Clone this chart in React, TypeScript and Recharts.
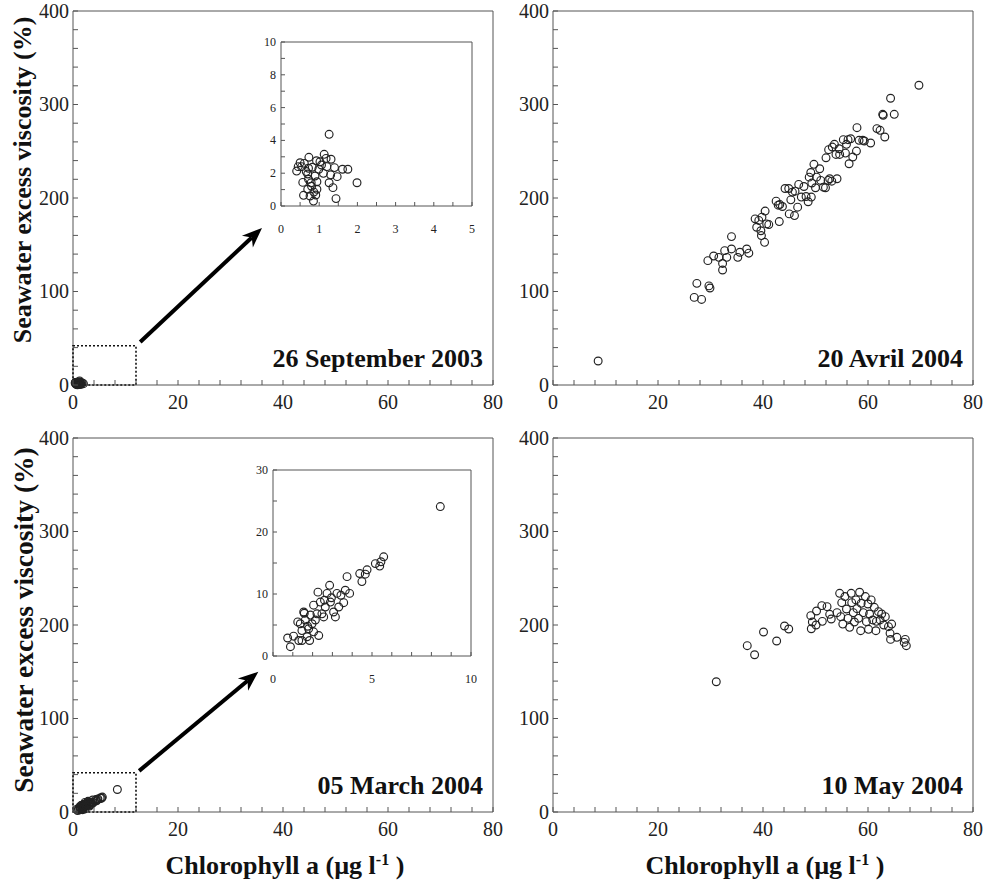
import React from 'react';
import { ScatterChart, Scatter, XAxis, YAxis, ReferenceArea, ReferenceLine } from 'recharts';

// Chlorophyll a (µg/l) vs seawater excess viscosity (%), four sampling dates

// 26 September 2003
const sepChl = [1.26, 1.13, 0.73, 0.93, 1.31, 0.5, 0.61, 0.54, 0.41, 0.72, 0.82, 0.99, 1.06, 1.2, 1.4, 1.61, 1.75, 0.7, 0.89, 1.11, 1.47, 0.57, 0.79, 0.94, 1.26, 1.99, 1.36, 0.7, 0.94, 0.59, 0.76, 0.91, 0.85, 1.44, 0.72, 0.45, 1.02, 0.66, 0.8, 1.18, 1.3, 0.86];
const sepVisc = [4.37, 3.15, 2.97, 2.76, 2.85, 2.64, 2.6, 2.4, 2.13, 2.3, 2.36, 2.24, 2.5, 2.4, 2.34, 2.24, 2.24, 1.95, 1.83, 1.99, 1.79, 1.44, 1.42, 1.48, 1.42, 1.42, 1.12, 1.02, 1.02, 0.65, 0.61, 0.67, 0.3, 0.45, 1.63, 2.4, 2.7, 2.1, 1.2, 2.9, 1.9, 0.85];

// 05 March 2004
const marChl = [8.45, 5.59, 5.39, 5.17, 4.75, 4.66, 4.38, 4.49, 3.74, 3.87, 3.65, 3.57, 3.43, 3.23, 3.15, 3.06, 2.86, 2.9, 2.73, 2.64, 2.47, 2.39, 2.27, 2.22, 2.14, 2.05, 1.97, 1.89, 1.8, 1.63, 1.58, 1.46, 1.38, 1.3, 1.55, 1.72, 1.85, 2.31, 1.04, 0.74, 0.88, 1.25, 1.46, 2.05, 2.56, 3.32, 2.95, 2.6, 1.75, 5.45];
const marVisc = [24.1, 16.0, 14.5, 14.9, 13.9, 13.2, 13.3, 12.0, 12.8, 10.1, 10.6, 8.6, 9.8, 10.1, 6.3, 7.1, 11.4, 8.7, 10.1, 7.9, 6.8, 8.7, 10.3, 6.8, 5.8, 8.2, 5.2, 6.6, 4.4, 5.8, 6.9, 4.1, 5.2, 2.5, 7.1, 3.1, 2.5, 3.3, 3.2, 2.9, 1.5, 5.5, 2.5, 3.9, 6.3, 7.9, 9.4, 9.0, 4.8, 15.2];

// 20 Avril 2004
const aprChl = [8.6, 26.9, 27.4, 28.3, 29.7, 29.9, 29.5, 30.6, 31.6, 32.3, 32.3, 32.7, 33.1, 34.0, 34.0, 35.2, 35.6, 36.9, 37.3, 38.5, 38.8, 39.2, 39.6, 39.7, 39.8, 40.3, 40.4, 40.7, 41.1, 42.5, 42.9, 43.1, 43.2, 43.7, 44.2, 44.9, 45.0, 45.3, 45.6, 46.0, 46.1, 46.6, 46.8, 47.3, 47.8, 48.2, 48.6, 48.8, 49.1, 49.2, 49.3, 49.7, 50.0, 50.2, 50.8, 51.0, 51.5, 51.9, 52.0, 52.4, 52.5, 52.7, 53.1, 53.2, 53.6, 53.9, 54.1, 54.5, 54.6, 55.3, 55.7, 55.9, 56.2, 56.4, 56.7, 57.1, 57.8, 57.9, 58.3, 59.0, 59.3, 60.5, 61.7, 62.3, 62.8, 62.9, 63.2, 64.3, 65.0, 69.7];
const aprVisc = [25.7, 93.7, 108.7, 91.5, 106, 103.7, 133, 138, 136.5, 130, 123, 143.7, 136.5, 158.7, 145.5, 136.5, 142, 145.5, 141, 177.7, 168.7, 176, 165, 159.8, 179.5, 152.6, 186, 172.3, 171.6, 196.6, 192.3, 174.8, 193, 190.9, 210.2, 210.2, 183, 198, 206.3, 181.2, 207.3, 190.2, 214.5, 201, 212.3, 201.6, 196, 222.3, 227.3, 201, 216, 236, 211, 222.3, 231.3, 218.8, 211.6, 211, 243, 218.8, 251.7, 220.6, 218, 254.5, 257.4, 246.6, 220.6, 252.7, 246.6, 262.4, 248, 257.4, 262.4, 236.6, 263.4, 243.8, 250.2, 275.2, 261.7, 261.7, 261, 258.8, 274.2, 272.4, 289.5, 288.5, 265.2, 306.7, 289.5, 320.6];

// 10 May 2004
const mayChl = [31.1, 37.0, 38.4, 40.1, 42.6, 44.1, 44.9, 49.1, 49.2, 49.4, 50.1, 50.2, 51.2, 51.3, 52.2, 52.7, 53.0, 54.1, 54.6, 54.8, 55.0, 55.2, 55.6, 55.9, 56.2, 56.5, 56.8, 56.9, 57.2, 57.4, 57.7, 57.9, 58.2, 58.4, 58.6, 58.7, 59.1, 59.5, 59.7, 60.0, 60.1, 60.3, 60.6, 60.9, 61.2, 61.5, 61.6, 62.0, 62.3, 62.6, 63.0, 63.3, 63.9, 64.2, 64.3, 64.5, 65.5, 67.1, 67.3, 66.9];
const mayVisc = [139.3, 177.9, 168.2, 192.5, 182.9, 198.9, 195.7, 210, 196, 203.2, 200, 215, 220.7, 203.9, 219.6, 211.4, 206.4, 213.2, 233.9, 208.9, 223.9, 201, 230.4, 217.1, 207.1, 197.5, 233.9, 223.9, 213.2, 203.2, 226.8, 217.5, 207.1, 235, 193.9, 223.2, 213.2, 230.4, 203.6, 222.5, 195.4, 211.8, 226.8, 205.4, 218.9, 193.9, 203.9, 214.3, 205.4, 211.8, 200, 208.9, 198.2, 191.1, 184.6, 201, 186.8, 184.6, 177.9, 181.4];

// axis ticks (every tick mark) and the ones carrying a label
const mainXTicks = [0, 4, 8, 12, 16, 20, 24, 28, 32, 36, 40, 44, 48, 52, 56, 60, 64, 68, 72, 76, 80];
const mainXLabels = [0, 20, 40, 60, 80];
const mainYTicks = [0, 20, 40, 60, 80, 100, 120, 140, 160, 180, 200, 220, 240, 260, 280, 300, 320, 340, 360, 380, 400];
const mainYLabels = [0, 100, 200, 300, 400];
const sepInsetXTicks = [0, 0.5, 1, 1.5, 2, 2.5, 3, 3.5, 4, 4.5, 5];
const sepInsetXLabels = [0, 1, 2, 3, 4, 5];
const sepInsetYTicks = [0, 1, 2, 3, 4, 5, 6, 7, 8, 9, 10];
const sepInsetYLabels = [0, 2, 4, 6, 8, 10];
const marInsetXTicks = [0, 1, 2, 3, 4, 5, 6, 7, 8, 9, 10];
const marInsetXLabels = [0, 5, 10];
const marInsetYTicks = [0, 5, 10, 15, 20, 25, 30];
const marInsetYLabels = [0, 10, 20, 30];

const SERIF = "'Liberation Serif', 'Times New Roman', serif";
const INK = '#222';
const FRAME = '#555';

type Pt = { x: number; y: number };
const toPts = (xs: number[], ys: number[]): Pt[] => xs.map((x, i) => ({ x, y: ys[i] }));

const ring = (p: any) => (
  <circle cx={p.cx} cy={p.cy} r={3.9} fill="none" stroke="#222" strokeWidth={1.15} />
);

// ticks drawn inward, text only for labelled values
const xTick = (labels: number[], len: number, size: number, dy: number) => (p: any) => {
  const { x, y, payload } = p;
  return (
    <g>
      <line x1={x} y1={y} x2={x} y2={y - len} stroke={FRAME} strokeWidth={1} />
      {labels.includes(payload.value) && (
        <text x={x} y={y + dy} textAnchor="middle" fontSize={size} fontFamily={SERIF} fill={INK}>
          {payload.value}
        </text>
      )}
    </g>
  );
};

const yTick = (labels: number[], len: number, size: number, dx: number) => (p: any) => {
  const { x, y, payload } = p;
  return (
    <g>
      <line x1={x} y1={y} x2={x + len} y2={y} stroke={FRAME} strokeWidth={1} />
      {labels.includes(payload.value) && (
        <text x={x - dx} y={y + size * 0.34} textAnchor="end" fontSize={size} fontFamily={SERIF} fill={INK}>
          {payload.value}
        </text>
      )}
    </g>
  );
};

const arrowShape = (p: any) => {
  const { x1, y1, x2, y2 } = p;
  const a = Math.atan2(y2 - y1, x2 - x1);
  const c = Math.cos(a), s = Math.sin(a);
  const L = 20, W = 8, N = 14;
  const bx = x2 - L * c, by = y2 - L * s;
  const nx = x2 - N * c, ny = y2 - N * s;
  return (
    <g>
      <line x1={x1} y1={y1} x2={nx} y2={ny} stroke="#000" strokeWidth={4} />
      <polygon
        points={`${x2},${y2} ${bx - s * W},${by + c * W} ${nx},${ny} ${bx + s * W},${by - c * W}`}
        fill="#000"
      />
    </g>
  );
};

const DateLabel = ({ viewBox, text }: any) => (
  <text
    x={viewBox.x + viewBox.width - 10}
    y={viewBox.y + viewBox.height - 18}
    textAnchor="end"
    fontSize={26}
    fontWeight="bold"
    fontFamily={SERIF}
    fill="#111"
  >
    {text}
  </text>
);

type PanelProps = {
  left: number;
  top: number;
  data: Pt[];
  date: string;
  zoomBox?: { x: number; y: number };
  arrow?: [Pt, Pt];
};

const PW = 420;
const PH = 374;

const MainPanel = ({ left, top, data, date, zoomBox, arrow }: PanelProps) => (
  <div style={{ position: 'absolute', left: left - 60, top: top - 10 }}>
    <ScatterChart width={PW + 70} height={PH + 45} margin={{ top: 10, right: 10, bottom: 5, left: 0 }}>
      <XAxis
        type="number" dataKey="x" domain={[0, 80]} ticks={mainXTicks} interval={0}
        tickSize={0} tickMargin={0} tickLine={false} axisLine={false} height={30}
        tick={xTick(mainXLabels, 5, 20, 24)}
      />
      <YAxis
        type="number" dataKey="y" domain={[0, 400]} ticks={mainYTicks} interval={0}
        tickSize={0} tickMargin={0} tickLine={false} axisLine={false} width={60}
        tick={yTick(mainYLabels, 5, 20, 4)}
      />
      <ReferenceArea
        x1={0} x2={80} y1={0} y2={400} fill="none" stroke={FRAME} strokeWidth={1}
        label={<DateLabel text={date} />}
      />
      {zoomBox && (
        <ReferenceArea
          x1={0} x2={zoomBox.x} y1={0} y2={zoomBox.y} fill="none"
          stroke="#111" strokeWidth={1.6} strokeDasharray="2 2"
        />
      )}
      {arrow && <ReferenceLine segment={arrow} shape={arrowShape} />}
      <Scatter data={data} shape={ring} isAnimationActive={false} />
    </ScatterChart>
  </div>
);

type InsetProps = {
  left: number;
  top: number;
  w: number;
  h: number;
  data: Pt[];
  xMax: number;
  yMax: number;
  xTicks: number[];
  xLabels: number[];
  yTicks: number[];
  yLabels: number[];
};

const Inset = ({ left, top, w, h, data, xMax, yMax, xTicks, xLabels, yTicks, yLabels }: InsetProps) => (
  <div style={{ position: 'absolute', left: left - 40, top: top - 6 }}>
    <ScatterChart width={w + 46} height={h + 36} margin={{ top: 6, right: 6, bottom: 0, left: 0 }}>
      <XAxis
        type="number" dataKey="x" domain={[0, xMax]} ticks={xTicks} interval={0}
        tickSize={0} tickMargin={0} tickLine={false} axisLine={false} height={30}
        tick={xTick(xLabels, 4, 12, 27)}
      />
      <YAxis
        type="number" dataKey="y" domain={[0, yMax]} ticks={yTicks} interval={0}
        tickSize={0} tickMargin={0} tickLine={false} axisLine={false} width={40}
        tick={yTick(yLabels, 4, 12, 5)}
      />
      <ReferenceArea x1={0} x2={xMax} y1={0} y2={yMax} fill="none" stroke={FRAME} strokeWidth={1} />
      <Scatter data={data} shape={ring} isAnimationActive={false} />
    </ScatterChart>
  </div>
);

const yTitle: React.CSSProperties = {
  position: 'absolute',
  transform: 'translate(-50%, -50%) rotate(-90deg)',
  whiteSpace: 'nowrap',
  fontFamily: SERIF,
  fontWeight: 'bold',
  fontSize: 26,
  lineHeight: 1,
  color: '#111',
};

const xTitle: React.CSSProperties = { ...yTitle, transform: 'translate(-50%, -50%)' };

const sup: React.CSSProperties = { fontSize: '0.62em', position: 'relative', top: '-0.55em' };

export default function App() {
  const sep = toPts(sepChl, sepVisc);
  const mar = toPts(marChl, marVisc);
  const apr = toPts(aprChl, aprVisc);
  const may = toPts(mayChl, mayVisc);

  return (
    <div style={{ position: 'absolute', left: 0, top: 0, width: 984, height: 883, background: '#fff', overflow: 'hidden' }}>
      <MainPanel
        left={73} top={11} data={sep} date="26 September 2003"
        zoomBox={{ x: 12, y: 42 }} arrow={[{ x: 12.8, y: 46 }, { x: 36, y: 168 }]}
      />
      <MainPanel left={553} top={11} data={apr} date="20 Avril 2004" />
      <MainPanel
        left={73} top={438} data={mar} date="05 March 2004"
        zoomBox={{ x: 12, y: 42 }} arrow={[{ x: 12.6, y: 44 }, { x: 35.3, y: 150 }]}
      />
      <MainPanel left={553} top={438} data={may} date="10 May 2004" />

      <Inset
        left={281} top={42} w={191} h={164} data={sep} xMax={5} yMax={10}
        xTicks={sepInsetXTicks} xLabels={sepInsetXLabels} yTicks={sepInsetYTicks} yLabels={sepInsetYLabels}
      />
      <Inset
        left={273} top={470} w={198} h={186} data={mar} xMax={10} yMax={30}
        xTicks={marInsetXTicks} xLabels={marInsetXLabels} yTicks={marInsetYTicks} yLabels={marInsetYLabels}
      />

      <div style={{ ...yTitle, left: 23, top: 180 }}>Seawater excess viscosity (%)</div>
      <div style={{ ...yTitle, left: 24, top: 620, fontSize: 27.5 }}>Seawater excess viscosity (%)</div>
      <div style={{ ...xTitle, left: 285, top: 866 }}>
        Chlorophyll a (µg l<span style={sup}>-1</span> )
      </div>
      <div style={{ ...xTitle, left: 765, top: 866 }}>
        Chlorophyll a (µg l<span style={sup}>-1</span> )
      </div>
    </div>
  );
}
